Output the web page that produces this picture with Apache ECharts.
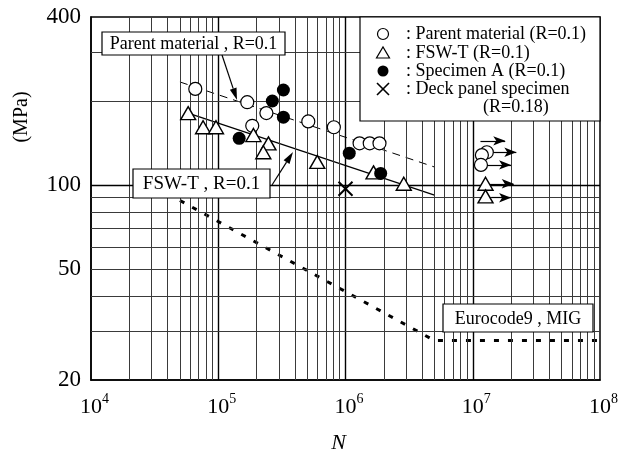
<!DOCTYPE html>
<html>
<head>
<meta charset="utf-8">
<script src="https://cdn.jsdelivr.net/npm/echarts@6/dist/echarts.min.js"></script>
<style>
  html, body { margin: 0; padding: 0; background: #fff; }
  #chart { width: 621px; height: 457px; }
</style>
</head>
<body>
<div id="chart"></div>
<script>
// parent material (open circles), last three are run-outs
var parentN = [6.6e4, 1.69e5, 1.85e5, 2.39e5, 5.1e5, 8.1e5, 1.29e6, 1.55e6, 1.85e6, 1.29e7, 1.18e7, 1.16e7];
var parentS = [221, 198, 163, 181, 169, 161, 141, 141, 141, 131, 128, 118];
// FSW-T (open triangles), last two are run-outs
var fswN = [5.8e4, 7.6e4, 9.6e4, 1.89e5, 2.48e5, 2.26e5, 6.0e5, 1.66e6, 2.87e6, 1.26e7, 1.26e7];
var fswS = [181, 161, 161, 151, 141, 131, 121, 111, 101, 101, 91];
// specimen A (filled circles)
var specN = [1.46e5, 2.66e5, 3.25e5, 3.25e5, 1.07e6, 1.89e6];
var specS = [147, 200, 219, 175, 130, 110];
// deck panel specimen
var deckN = [1.0e6];
var deckS = [97];
// fitted lines
var parentLineN = [5e4, 5e6];
var parentLineS = [234, 116];
var fswLineN = [5.8e4, 5e6];
var fswLineS = [181, 92];
var euroN = [5e4, 5e6, 1e8];
var euroS = [88, 27.7, 27.7];
// run-out arrows
var runFromN = [1.15e7, 1.3e7, 1.3e7, 1.35e7, 1.4e7];
var runToN = [1.8e7, 2.2e7, 2.0e7, 2.1e7, 2.0e7];
var runS = [144, 131, 118, 101, 90];
// axes
var xDecades = [1e4, 1e5, 1e6, 1e7, 1e8];
var gridMult = [2, 3, 4, 5, 6, 7, 8, 9];
var yMinorGrid = [30, 40, 50, 60, 70, 80, 90, 200, 300];
var yMajorGrid = [100];
var yLabels = [20, 50, 100, 400];
var legendTexts = [": Parent material (R=0.1)", ": FSW-T (R=0.1)", ": Specimen A (R=0.1)", ": Deck panel specimen", "(R=0.18)"];

var FONT = "Liberation Serif";
var chart = echarts.init(document.getElementById("chart"));

function pairs(a, b) {
  return a.map(function(v, i) { return [v, b[i]]; });
}

var xMinor = [];
xDecades.slice(0, 4).forEach(function(d) {
  gridMult.forEach(function(m) { xMinor.push(d * m); });
});

var gridLines = [];
xMinor.forEach(function(v) {
  gridLines.push({ xAxis: v, lineStyle: { color: "#3a3a3a", width: 1, type: "solid" } });
});
xDecades.slice(1, 4).forEach(function(v) {
  gridLines.push({ xAxis: v, lineStyle: { color: "#000", width: 1.4, type: "solid" } });
});
yMinorGrid.forEach(function(v) {
  gridLines.push({ yAxis: v, lineStyle: { color: "#3a3a3a", width: 1, type: "solid" } });
});
yMajorGrid.forEach(function(v) {
  gridLines.push({ yAxis: v, lineStyle: { color: "#000", width: 1.4, type: "solid" } });
});

var runArrows = runS.map(function(s, i) {
  return [{ coord: [runFromN[i], s] }, { coord: [runToN[i], s] }];
});

// arrow helper for annotation callouts (pixel layout)
function arrow(x1, y1, x2, y2) {
  var dx = x2 - x1, dy = y2 - y1;
  var l = Math.sqrt(dx * dx + dy * dy);
  var ux = dx / l, uy = dy / l;
  var bx = x2 - ux * 12, by = y2 - uy * 12;
  return [
    { type: "line", z: 100, shape: { x1: x1, y1: y1, x2: bx, y2: by }, style: { stroke: "#000", lineWidth: 1.2 } },
    { type: "polygon", z: 100, shape: { points: [[x2, y2], [bx - uy * 3.5, by + ux * 3.5], [bx + uy * 3.5, by - ux * 3.5]] }, style: { fill: "#000" } }
  ];
}

function box(x, y, w, h, text, size) {
  return [
    { type: "rect", z: 100, shape: { x: x, y: y, width: w, height: h }, style: { fill: "#fff", stroke: "#000", lineWidth: 1.2 } },
    { type: "text", z: 101, style: { text: text, x: x + w / 2, y: y + h / 2 + 1, align: "center", verticalAlign: "middle", font: size + "px \"Liberation Serif\"", fill: "#000" } }
  ];
}

var lx = 383, ly = [34, 53, 71, 89];
var graphics = [].concat(
  box(102, 32, 183, 23, "Parent material , R=0.1", 18),
  box(133, 169, 137, 29, "FSW-T , R=0.1", 19),
  box(443, 304, 150, 28, "Eurocode9 , MIG", 18),
  arrow(222, 55, 237, 100),
  arrow(272, 185, 293, 152),
  [
    { type: "rect", z: 100, shape: { x: 360, y: 17, width: 240, height: 104 }, style: { fill: "#fff", stroke: "#000", lineWidth: 1.2 } },
    { type: "circle", z: 101, shape: { cx: lx, cy: ly[0], r: 5.5 }, style: { fill: "#fff", stroke: "#000", lineWidth: 1.2 } },
    { type: "polygon", z: 101, shape: { points: [[lx - 6.5, ly[1] + 5], [lx + 6.5, ly[1] + 5], [lx, ly[1] - 6]] }, style: { fill: "#fff", stroke: "#000", lineWidth: 1.2 } },
    { type: "circle", z: 101, shape: { cx: lx, cy: ly[2], r: 5.5 }, style: { fill: "#000" } },
    { type: "line", z: 101, shape: { x1: lx - 6, y1: ly[3] - 6, x2: lx + 6, y2: ly[3] + 6 }, style: { stroke: "#000", lineWidth: 1.6 } },
    { type: "line", z: 101, shape: { x1: lx + 6, y1: ly[3] - 6, x2: lx - 6, y2: ly[3] + 6 }, style: { stroke: "#000", lineWidth: 1.6 } },
    { type: "text", z: 101, style: { text: "(MPa)", x: 22, y: 117, align: "center", verticalAlign: "middle", font: "20px \"Liberation Serif\"", fill: "#000" }, rotation: Math.PI / 2, originX: 22, originY: 117 }
  ],
  legendTexts.map(function(t, i) {
    return { type: "text", z: 101, style: { text: t, x: i < 4 ? 406 : 483, y: i < 4 ? ly[i] : 107, align: "left", verticalAlign: "middle", font: "18px \"Liberation Serif\"", fill: "#000" } };
  })
);

var option = {
  animation: false,
  backgroundColor: "#fff",
  grid: {
    left: 91, right: 21, top: 17, bottom: 77,
    outerBoundsMode: "none",
    show: true, borderColor: "#000", borderWidth: 1.5, backgroundColor: "transparent"
  },
  xAxis: {
    type: "log",
    logBase: 10,
    min: 1e4,
    max: 1e8,
    name: "N",
    nameLocation: "middle",
    nameGap: 52,
    nameTextStyle: { fontFamily: FONT, fontStyle: "italic", fontSize: 22, color: "#000", padding: [0, 14, 0, 0] },
    axisLine: { lineStyle: { color: "#000", width: 1.5 } },
    axisTick: { show: false },
    splitLine: { show: false },
    axisLabel: {
      customValues: xDecades,
      margin: 12,
      padding: [0, 0, 0, 7],
      fontFamily: FONT,
      color: "#000",
      formatter: function(v) {
        return "{b|10}{s|" + Math.round(Math.log10(v)) + "}";
      },
      rich: {
        b: { fontFamily: FONT, fontSize: 22, color: "#000", lineHeight: 26, verticalAlign: "bottom" },
        s: { fontFamily: FONT, fontSize: 14, color: "#000", verticalAlign: "top" }
      }
    }
  },
  yAxis: {
    type: "log",
    logBase: 10,
    min: 20,
    max: 400,
    axisLine: { lineStyle: { color: "#000", width: 1.5 } },
    axisTick: { show: false },
    splitLine: { show: false },
    axisLabel: { customValues: yLabels, margin: 10, fontFamily: FONT, fontSize: 23, color: "#000" }
  },
  series: [
    {
      name: "grid",
      type: "line",
      data: [],
      silent: true,
      z: 1,
      markLine: { silent: true, symbol: ["none", "none"], label: { show: false }, data: gridLines, animation: false }
    },
    {
      name: "Eurocode9 , MIG",
      type: "line",
      data: pairs(euroN, euroS),
      symbol: "none",
      z: 2,
      lineStyle: { color: "#000", width: 3, type: [5, 9], cap: "butt" }
    },
    {
      name: "Parent material line",
      type: "line",
      data: pairs(parentLineN, parentLineS),
      symbol: "none",
      z: 2,
      lineStyle: { color: "#000", width: 1, type: [8, 6] }
    },
    {
      name: "FSW-T line",
      type: "line",
      data: pairs(fswLineN, fswLineS),
      symbol: "none",
      z: 2,
      lineStyle: { color: "#000", width: 1.2 },
      markLine: {
        silent: true,
        symbol: ["none", "arrow"],
        symbolSize: [7, 12],
        label: { show: false },
        lineStyle: { color: "#000", width: 1.2, type: "solid" },
        data: runArrows
      }
    },
    {
      name: "Parent material",
      type: "scatter",
      data: pairs(parentN, parentS),
      symbol: "circle",
      symbolSize: 13,
      z: 5,
      itemStyle: { color: "#fff", borderColor: "#000", borderWidth: 1.2, opacity: 1 }
    },
    {
      name: "FSW-T",
      type: "scatter",
      data: pairs(fswN, fswS),
      symbol: "triangle",
      symbolSize: [15, 13],
      z: 5,
      itemStyle: { color: "#fff", borderColor: "#000", borderWidth: 1.4, opacity: 1 }
    },
    {
      name: "Specimen A",
      type: "scatter",
      data: pairs(specN, specS),
      symbol: "circle",
      symbolSize: 13,
      z: 6,
      itemStyle: { color: "#000", opacity: 1 }
    },
    {
      name: "Deck panel specimen",
      type: "scatter",
      data: pairs(deckN, deckS),
      symbol: "path://M0,0L10,10M10,0L0,10",
      symbolSize: 14,
      z: 6,
      itemStyle: { color: "rgba(0,0,0,0)", borderColor: "#000", borderWidth: 2, opacity: 1 }
    }
  ],
  graphic: graphics
};

chart.setOption(option);
window.addEventListener("resize", chart.resize);
</script>
</body>
</html>
